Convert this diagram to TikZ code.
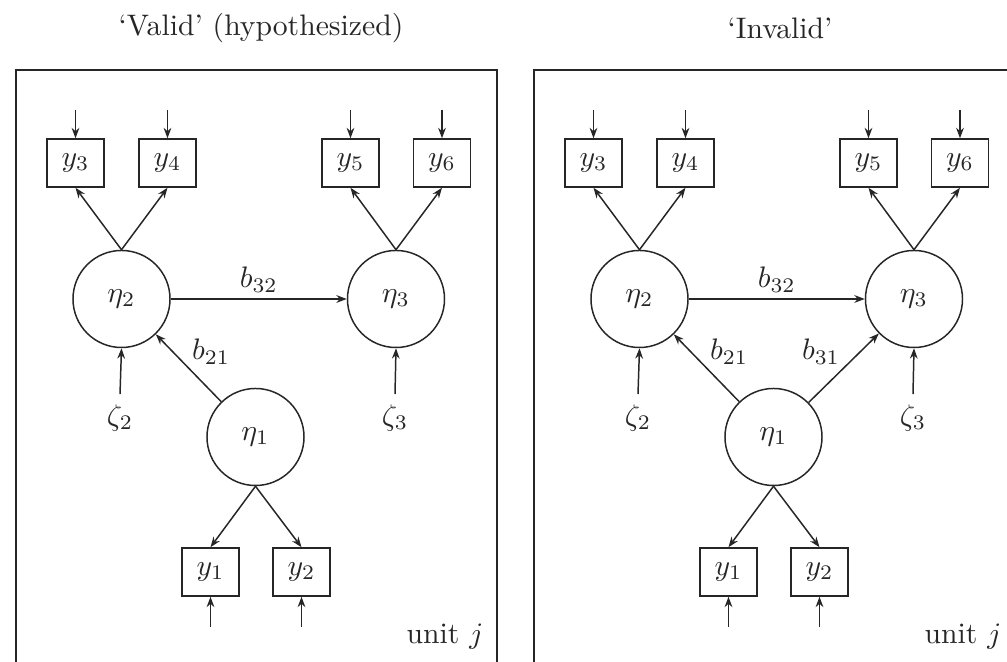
\documentclass[tikz,border=0pt]{standalone}
\usetikzlibrary{arrows.meta}
\newcommand\panelcore{%
  \draw[frame] (16,70) rectangle (497,720);
  \node[obs] (y3) at (75.5,163) {$y_3$};
  \node[obs] (y4) at (167.5,163) {$y_4$};
  \node[obs] (y5) at (350.5,163) {$y_5$};
  \node[obs] (y6) at (442,163) {$y_6$};
  \node[lat] (eta2) at (121.5,299) {$\eta_2$};
  \node[lat] (eta3) at (396,299) {$\eta_3$};
  \node[lat] (eta1) at (255.5,437) {$\eta_1$};
  \node[obs] (y1) at (210.5,572) {$y_1$};
  \node[obs] (y2) at (301.5,572) {$y_2$};
  \node (z2) at (120,418) {$\zeta_2$};
  \node (z3) at (395,418) {$\zeta_3$};
  \node (unit) at (445,637) {unit $j$};
  \coordinate (e3) at (75.5,110);
  \coordinate (e4) at (167.5,110);
  \coordinate (e5) at (350.5,110);
  \coordinate (e6) at (442,110);
  \coordinate (e1) at (210.5,627);
  \coordinate (e2) at (301.5,627);
  \foreach \k in {1,...,6} {\draw[arr] (e\k) -- (y\k);}
  \draw[arr] (eta2.north) -- (y3.south);
  \draw[arr] (eta2.north) -- (y4.south);
  \draw[arr] (eta3.north) -- (y5.south);
  \draw[arr] (eta3.north) -- (y6.south);
  \draw[arr] (eta1.south) -- (y1.north);
  \draw[arr] (eta1.south) -- (y2.north);
  \draw[arr] (z2.north) -- (eta2.south);
  \draw[arr] (z3.north) -- (eta3.south);
  \draw[arr] (eta2) -- node[above, inner sep=2pt] {$b_{32}$} (eta3);
  \draw[arr] (eta1) -- node[above right, inner sep=1pt] {$b_{21}$} (eta2);
}
\begin{document}
\begin{tikzpicture}[x=0.337pt,y=-0.337pt,
  every node/.style={text=black!85},
  line width=0.5pt, draw=black!85,
  obs/.style={draw=black!85, rectangle, minimum width=19.2pt, minimum height=16.2pt, inner sep=0pt},
  lat/.style={draw=black!85, circle, minimum size=32.7pt, inner sep=0pt},
  arr/.style={draw=black!85, -{Stealth[length=3.5pt,width=2.6pt]}},
  frame/.style={draw=black!85, line width=0.7pt}]
\useasboundingbox (0,0) rectangle (1007,662);
\clip (0,0) rectangle (1007,662);
\node (tL) at (261,28) {`Valid' (hypothesized)};
\node (tR) at (780,28) {`Invalid'};
\begin{scope}[name prefix=L-]
  \panelcore
\end{scope}
\begin{scope}[shift={(518,0)}, name prefix=R-]
  \panelcore
  \draw[arr] (eta1) -- node[above left, inner sep=1pt] {$b_{31}$} (eta3);
\end{scope}
\end{tikzpicture}
\end{document}
